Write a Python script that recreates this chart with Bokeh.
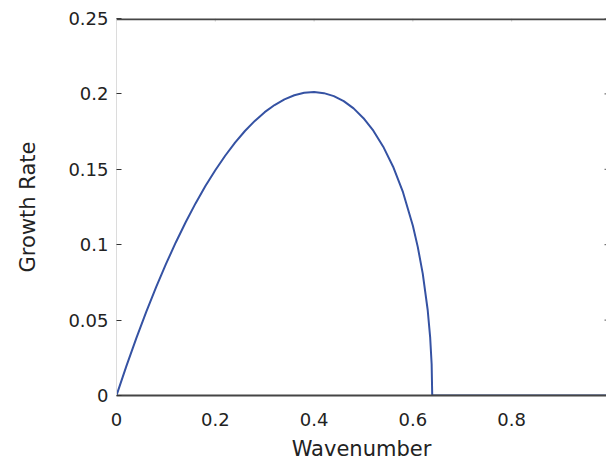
import math

from bokeh.plotting import figure
from bokeh.models import Range1d, FixedTicker, Span
from bokeh.embed import file_html
from bokeh.resources import INLINE

# Growth rate of the unstable mode versus wavenumber
wavenumber = [0.0, 0.02, 0.04, 0.06, 0.08, 0.10, 0.12, 0.14, 0.16, 0.18,
              0.20, 0.22, 0.24, 0.26, 0.28, 0.30, 0.32, 0.34, 0.36, 0.38,
              0.40, 0.42, 0.44, 0.46, 0.48, 0.50, 0.52, 0.54, 0.56, 0.58,
              0.60, 0.61, 0.62, 0.63, 0.635, 0.638, 0.6392, 1.0]
growth_rate = [0.0, 0.0195, 0.0379, 0.0553, 0.0717, 0.0871, 0.1015, 0.1149, 0.1274, 0.1389,
               0.1494, 0.1590, 0.1677, 0.1754, 0.1821, 0.1879, 0.1926, 0.1964, 0.1991, 0.2007,
               0.2012, 0.2005, 0.1985, 0.1952, 0.1904, 0.1839, 0.1756, 0.1650, 0.1517, 0.1348,
               0.1126, 0.0984, 0.0808, 0.0567, 0.0386, 0.0209, 0.0, 0.0]

x_ticks = [0, 0.2, 0.4, 0.6, 0.8]
y_ticks = [0, 0.05, 0.1, 0.15, 0.2, 0.25]
y_tick_labels = {0: "0", 0.05: "0.05", 0.1: "0.1", 0.15: "0.15", 0.2: "0.2", 0.25: "0.25"}

X_MAX = 0.992
Y_MAX = 0.25

FONT = "DejaVu Sans"
DARK = "#454545"
TEXT = "#222222"

p = figure(width=606, height=463, output_backend="svg", toolbar_location=None,
           x_range=Range1d(0, X_MAX), y_range=Range1d(0, Y_MAX),
           min_border_left=116, min_border_right=0, min_border_top=18,
           min_border_bottom=68, background_fill_color="white",
           border_fill_color="white")
p.outline_line_color = None
p.xgrid.visible = False
p.ygrid.visible = False

p.line(wavenumber, growth_rate, line_color="#3552a3", line_width=2)

# bottom axis
xa = p.xaxis[0]
xa.ticker = FixedTicker(ticks=x_ticks)
xa.axis_label = "Wavenumber"
xa.axis_line_color = DARK
xa.axis_line_width = 2
xa.major_tick_in = 0
xa.major_tick_out = 0
xa.minor_tick_line_color = None
xa.major_label_standoff = 17
xa.axis_label_standoff = 8
xa.major_label_text_font = FONT
xa.major_label_text_font_size = "18px"
xa.major_label_text_color = TEXT
xa.axis_label_text_font = FONT
xa.axis_label_text_font_size = "21px"
xa.axis_label_text_font_style = "normal"
xa.axis_label_text_color = TEXT

# left axis
ya = p.yaxis[0]
ya.ticker = FixedTicker(ticks=y_ticks)
ya.major_label_overrides = y_tick_labels
ya.axis_label = "Growth Rate"
ya.axis_line_color = "#dcdcdc"
ya.axis_line_width = 1
ya.major_tick_in = 5
ya.major_tick_out = 0
ya.major_tick_line_color = "#333333"
ya.minor_tick_line_color = None
ya.major_label_standoff = 8
ya.axis_label_standoff = 25
ya.major_label_text_font = FONT
ya.major_label_text_font_size = "18px"
ya.major_label_text_color = TEXT
ya.axis_label_text_font = FONT
ya.axis_label_text_font_size = "21px"
ya.axis_label_text_font_style = "normal"
ya.axis_label_text_color = TEXT

# top border line
p.add_layout(Span(location=Y_MAX, dimension="width", line_color=DARK,
                  line_width=3.5, level="overlay"))

# faint inward ticks under the top border
p.ray(x=x_ticks, y=[Y_MAX] * len(x_ticks), length=3, length_units="screen",
      angle=-math.pi / 2, line_color="#cccccc", line_width=1)

# short inward ticks along the right edge
p.ray(x=[X_MAX] * len(y_ticks), y=y_ticks, length=2, length_units="screen",
      angle=math.pi, line_color="#555555", line_width=1)

open("out.html", "w").write(file_html(p, INLINE))
